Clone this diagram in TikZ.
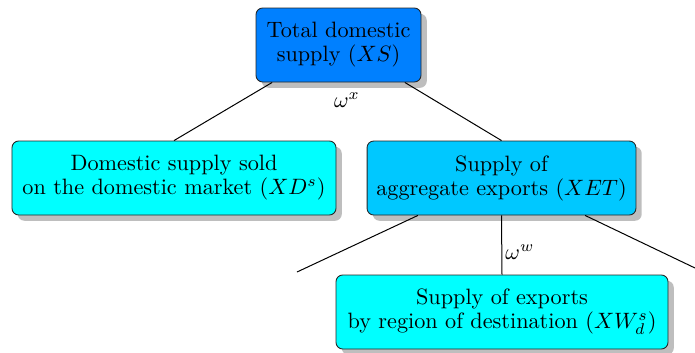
\documentclass[tikz,border=0pt]{standalone}
\usetikzlibrary{shadows,calc}
\definecolor{topblue}{RGB}{0,128,255}
\definecolor{midblue}{RGB}{0,200,255}
\definecolor{lightcyan}{RGB}{0,255,255}
\definecolor{shadowgray}{RGB}{190,190,190}
\begin{document}
\begin{tikzpicture}[x=0.45pt,y=-0.45pt,
  box/.style={draw=black!85,rounded corners=3pt,align=center,
    minimum height=33.3pt,inner sep=0pt,
    font=\fontsize{10}{10.8}\selectfont,
    drop shadow={shadow xshift=2.6pt,shadow yshift=-2.6pt,fill=shadowgray,opacity=1}},
  conn/.style={draw=black,line width=0.45pt},
  lbl/.style={font=\fontsize{10}{12}\selectfont,inner sep=0pt}]
\useasboundingbox (0,0) rectangle (695,352);
\node[box,fill=topblue,minimum width=74.25pt] (top) at (338.5,45) {Total domestic\\supply ($XS$)};
\node[box,fill=lightcyan,minimum width=145.8pt] (left) at (174,178) {Domestic supply sold\\on the domestic market ($XD^s$)};
\node[box,fill=midblue,minimum width=121pt] (right) at (501.5,178) {Supply of\\aggregate exports ($XET$)};
\node[box,fill=lightcyan,minimum width=149.4pt] (bottom) at (502,312) {Supply of exports\\by region of destination ($XW^s_d$)};
\coordinate (offl) at (297,272);
\coordinate (offr) at (695,268);
\draw[conn] ($(top.south west)!0.1!(top.south east)$) -- (left.north);
\draw[conn] ($(top.south west)!0.9!(top.south east)$) -- (right.north);
\draw[conn] ($(right.south west)!0.19!(right.south east)$) -- (offl);
\draw[conn] (right.south) -- (bottom.north);
\draw[conn] ($(right.south west)!0.81!(right.south east)$) -- (offr);
\node[lbl] (wx) at (347,100) {$\omega^x$};
\node[lbl] (ww) at (520,252) {$\omega^w$};
\end{tikzpicture}
\end{document}
